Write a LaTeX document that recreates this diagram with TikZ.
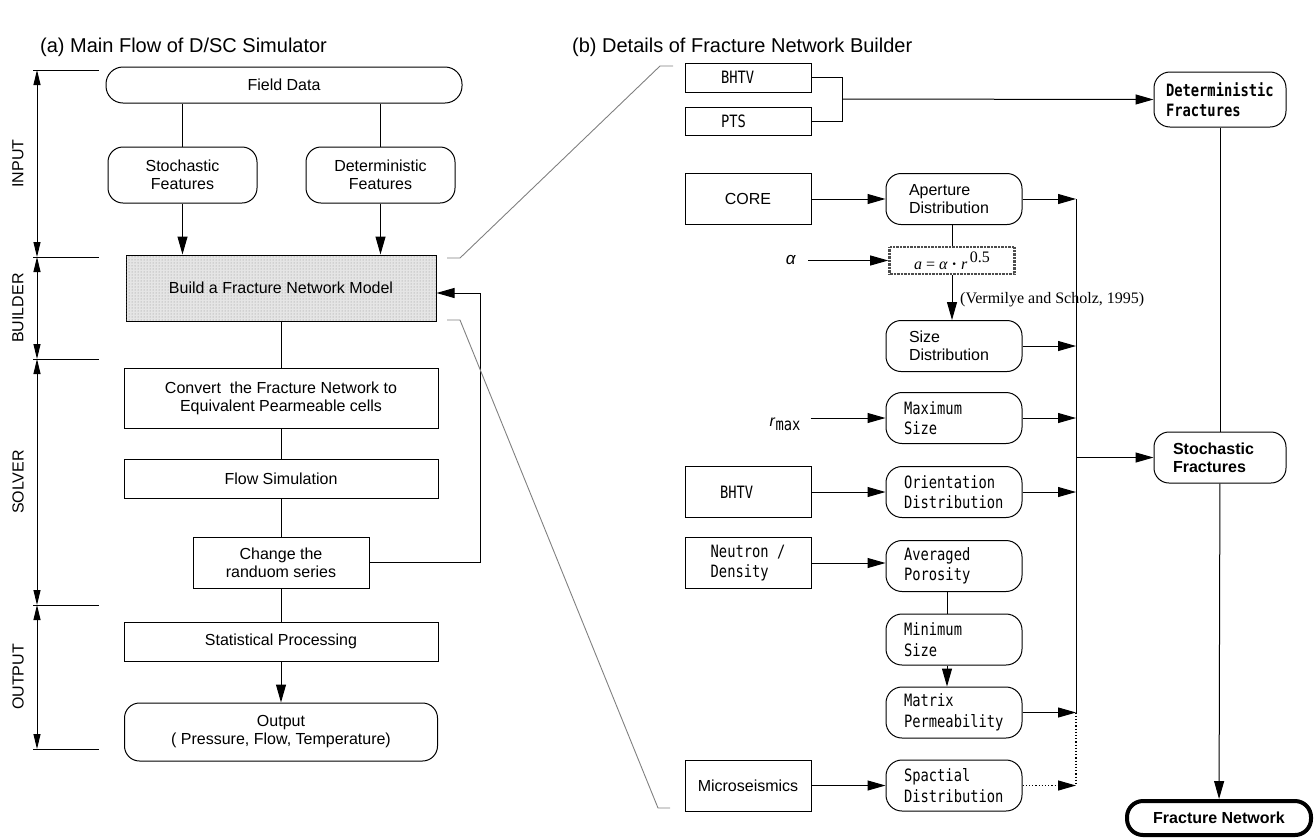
\documentclass[tikz,border=0pt]{standalone}
\usepackage{fontspec}
\setmainfont{Liberation Sans}
\newfontfamily\gothic[FakeStretch=0.81]{DejaVu Sans Mono}
\newfontfamily\timesf{Liberation Serif}
\usepackage{tikz}
\usetikzlibrary{arrows.meta,patterns}
\tikzstyle{plain}=[rectangle, draw, line width=1pt, align=center, inner sep=0pt, font=\fontsize{16}{18}\selectfont]
\tikzstyle{roundbox}=[plain, rounded corners=15pt]
\tikzstyle{gbox}=[plain, font=\gothic\fontsize{17}{20.5}\selectfont]
\tikzstyle{groundbox}=[gbox, rounded corners=16pt]
\tikzstyle{midbox}=[minimum width=136pt, minimum height=51pt]
\tikzstyle{srcbox}=[minimum width=126pt, minimum height=51pt]
\tikzstyle{arrow}=[draw=black, line width=1pt, -{Triangle[length=18pt,width=10pt]}]
\tikzstyle{dimline}=[draw=black, line width=1pt, {Triangle[length=15pt,width=7pt]}-{Triangle[length=15pt,width=7pt]}]
\tikzstyle{zoomline}=[draw=black!50, line width=0.9pt]
\tikzstyle{sidelabel}=[rotate=90, font=\fontsize{16}{18}\selectfont]

\begin{document}
\begin{tikzpicture}[x=1pt, y=-1pt]
		   \useasboundingbox (0,0) rectangle (1316,839);
		   \begin{scope}
			   \node (ttla) at (40,47) [anchor=west, inner sep=0pt, font=\fontsize{20}{24}\selectfont] {(a) Main Flow of D/SC Simulator};
			   \node (ttlb) at (572,47) [anchor=west, inner sep=0pt, font=\fontsize{20}{24}\selectfont] {(b) Details of Fracture Network Builder};

			   % left flow
			   \node (field) at (284,85) [roundbox, rounded corners=17pt, minimum width=356pt, minimum height=36pt] {Field Data};
			   \node (sfeat) at (182.5,175) [roundbox, minimum width=149pt, minimum height=56pt] {Stochastic\\Features};
			   \node (dfeat) at (380.5,175) [roundbox, minimum width=149pt, minimum height=56pt] {Deterministic\\Features};
			   \node (build) at (281,288) [plain, fill=black!10, postaction={pattern=dots, pattern color=black!45}, minimum width=310pt, minimum height=66pt] {Build a Fracture Network Model};
			   \node (conv) at (281,398) [plain, minimum width=314pt, minimum height=60pt] {Convert\ \ the Fracture Network to\\Equivalent Pearmeable cells};
			   \node (flow) at (281,478.5) [plain, minimum width=314pt, minimum height=39pt] {Flow Simulation};
			   \node (chg) at (281,562.5) [plain, minimum width=176pt, minimum height=51pt] {Change the\\randuom series};
			   \node (stat) at (281,641.5) [plain, minimum width=314pt, minimum height=39pt] {Statistical Processing};
			   \node (out) at (281,732) [roundbox, minimum width=313pt, minimum height=58pt] {Output\\( Pressure, Flow, Temperature)};

			   % stages
			   \coordinate (t1) at (37,70);
			   \coordinate (t2) at (37,257);
			   \coordinate (t3) at (37,359);
			   \coordinate (t4) at (37,605);
			   \coordinate (t5) at (37,749);
			   \node (linput) at (18,163.5) [sidelabel] {INPUT};
			   \node (lbuild) at (18,308) [sidelabel] {BUILDER};
			   \node (lsolve) at (18,482) [sidelabel] {SOLVER};
			   \node (loutput) at (18,677) [sidelabel] {OUTPUT};

			   % right sources
			   \node (bhtva) at (748,77.5) [gbox, minimum width=126pt, minimum height=29pt, text width=54pt, align=left] {BHTV};
			   \node (pts) at (748,121) [gbox, minimum width=126pt, minimum height=28pt, text width=54pt, align=left] {PTS};
			   \node (core) at (748,199) [plain, srcbox] {CORE};
			   \node (alpha) at (791,260) [inner sep=0pt, font=\fontsize{17}{18}\selectfont] {\textit{α}};
			   \node (rmax) at (785,424) [inner sep=0pt, font=\fontsize{16}{18}\selectfont] {\textit{r}\raisebox{-4pt}{\gothic\fontsize{17}{18}\selectfont max}};
			   \node (bhtvb) at (748,492) [gbox, srcbox, text width=56pt, align=left] {BHTV};
			   \node (neut) at (748,563) [gbox, srcbox, align=left] {Neutron /\\Density};
			   \node (micro) at (748,785.5) [plain, srcbox] {Microseismics};

			   % right middle
			   \node (aper) at (954,199) [roundbox, midbox, text width=90pt, align=left] {Aperture\\Distribution};
			   \node (form) at (952,260.5) [draw=black!70, line width=2.6pt, dash pattern=on 0.8pt off 0.6pt, minimum width=125pt, minimum height=27pt, inner sep=0pt, font=\timesf\fontsize{16}{18}\selectfont] {\textit{a} = \textit{α} \textbf{·} \textit{r}\,\raisebox{7pt}{0.5}};
			   \node (cite) at (960,300) [anchor=west, inner sep=0pt, font=\timesf\fontsize{16}{18}\selectfont] {(Vermilye and Scholz, 1995)};
			   \node (size) at (954,346) [roundbox, midbox, text width=90pt, align=left] {Size\\Distribution};
			   \node (maxs) at (954,418) [groundbox, midbox, text width=100pt, align=left] {Maximum\\Size};
			   \node (orient) at (954,492) [groundbox, midbox, text width=100pt, align=left] {Orientation\\Distribution};
			   \node (avg) at (954,566) [groundbox, midbox, text width=100pt, align=left] {Averaged\\Porosity};
			   \node (mins) at (954,639.5) [groundbox, midbox, text width=100pt, align=left] {Minimum\\Size};
			   \node (matp) at (954,712.5) [groundbox, midbox, text width=100pt, align=left] {Matrix\\Permeability};
			   \node (spat) at (954,785.5) [groundbox, midbox, text width=100pt, align=left] {Spactial\\Distribution};

			   % results
			   \node (det) at (1220,99.5) [groundbox, font=\gothic\bfseries\fontsize{17}{20.5}\selectfont, minimum width=132pt, minimum height=55pt, text width=108pt, align=left] {Deterministic\\Fractures};
			   \node (stoch) at (1220,457.5) [roundbox, font=\bfseries\fontsize{16}{18}\selectfont, minimum width=132pt, minimum height=51pt, text width=94pt, align=left] {Stochastic\\Fractures};
			   \node (fnet) at (1219,818) [roundbox, line width=4pt, rounded corners=16pt, font=\bfseries\fontsize{16}{18}\selectfont, minimum width=184pt, minimum height=34pt] {Fracture Network};

			   \coordinate (mrg) at (842,99);
			   \coordinate (bus) at (1076,0);
		   \end{scope}
		   \begin{scope}
			   % left flow links
			   \path [-, line width=1pt] (sfeat.north) edge (sfeat.north |- field.south);
			   \path [-, line width=1pt] (dfeat.north) edge (dfeat.north |- field.south);
			   \draw [arrow] (sfeat.south) -- (sfeat.south |- build.north);
			   \draw [arrow] (dfeat.south) -- (dfeat.south |- build.north);
			   \path [-, line width=1pt] (build) edge (conv);
			   \path [-, line width=1pt] (conv) edge (flow);
			   \path [-, line width=1pt] (flow) edge (chg);
			   \path [-, line width=1pt] (chg) edge (stat);
			   \draw [arrow] (stat) -- (out);
			   \draw [arrow] (chg.east) -- ++(111,0) |- ([yshift=-5pt]build.east);

			   % stage marks
			   \foreach \t in {t1,t2,t3,t4,t5}
			       \draw [line width=1pt] (\t) ++(-4,0) -- ++(66,0);
			   \draw [dimline] (t1) -- (t2);
			   \draw [dimline] (t2) -- (t3);
			   \draw [dimline] (t3) -- (t4);
			   \draw [dimline] (t4) -- (t5);

			   % zoom lines
			   \draw [zoomline] (447,258) -- (460,258) -- (660,66) -- (673,66);
			   \draw [zoomline] (447,320) -- (460,320) -- (658,808) -- (670,808);

			   % right links
			   \draw [line width=1pt] (bhtva.east) -| (mrg) |- (pts.east);
			   \draw [arrow] (mrg) -- (det.west);
			   \draw [arrow] (core) -- (aper);
			   \path [-, line width=1pt] (form.north) edge (form.north |- aper.south);
			   \draw [arrow] ([xshift=12pt]alpha.east |- form.west) -- (form.west);
			   \draw [arrow] (form.south) -- (form.south |- size.north);
			   \draw [arrow] ([xshift=10pt]rmax.east |- maxs.west) -- (maxs.west);
			   \draw [arrow] (bhtvb) -- (orient);
			   \draw [arrow] (neut.east) -- (neut.east -| avg.west);
			   \path [-, line width=1pt] ([xshift=-7pt]avg.south) edge ([xshift=-7pt]mins.north);
			   \draw [arrow] ([xshift=-7pt]mins.south) -- ([xshift=-7pt]matp.north);
			   \draw [arrow] (micro) -- (spat);

			   % bus to stochastic
			   \draw [line width=1pt] (aper.east -| bus) -- (matp.east -| bus);
			   \draw [line width=1.2pt, dotted] (matp.east -| bus) -- (spat.east -| bus);
			   \draw [arrow] (aper.east) -- (aper.east -| bus);
			   \draw [arrow] (size.east) -- (size.east -| bus);
			   \draw [arrow] (maxs.east) -- (maxs.east -| bus);
			   \draw [arrow] (orient.east) -- (orient.east -| bus);
			   \draw [arrow] (matp.east) -- (matp.east -| bus);
			   \draw [arrow, line width=1.2pt, dotted] (spat.east) -- (spat.east -| bus);
			   \draw [arrow] (stoch.west -| bus) -- (stoch.west);
			   \path [-, line width=1pt] (det) edge (stoch);
			   \draw [arrow] (stoch) -- (fnet);
		   \end{scope}
\end{tikzpicture}
\end{document}
